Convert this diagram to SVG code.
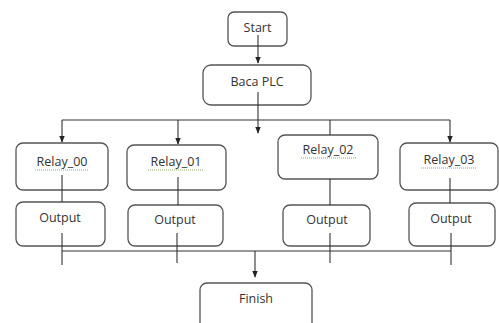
<svg xmlns="http://www.w3.org/2000/svg" width="499" height="323" viewBox="0 0 499 323">
<defs>
<marker id="ah" viewBox="0 0 10 10" refX="9" refY="5" markerWidth="7" markerHeight="7" orient="auto" markerUnits="userSpaceOnUse">
<path d="M0,1 L10,5 L0,9 z" fill="#222"/>
</marker>
<style>
.box{fill:#fff;stroke:#555;stroke-width:1.3}
.t{font-family:"Open Sans","Liberation Sans",sans-serif;font-size:12.5px;fill:#333;text-anchor:middle}
.c{stroke:#333;stroke-width:1.1;fill:none}
.sq{stroke:#6a9a4a;stroke-width:0.8;stroke-dasharray:1 1;fill:none}
</style>
</defs>
<rect width="499" height="323" fill="#fff"/>
<g id="start"><rect class="box" x="228" y="12" width="59" height="34" rx="6"/><text class="t" x="257.5" y="32">Start</text></g>
<g id="baca"><rect class="box" x="203" y="65" width="108" height="40" rx="8"/><text class="t" x="257" y="86">Baca PLC</text></g>
<g id="relay00"><rect class="box" x="16" y="143" width="92" height="47" rx="7"/><text class="t" x="62" y="166">Relay_00</text><path class="sq" d="M35,170 H89"/></g>
<g id="relay01"><rect class="box" x="127" y="145" width="99" height="45" rx="7"/><text class="t" x="176" y="166">Relay_01</text><path class="sq" d="M148,170 H203"/></g>
<g id="relay02"><rect class="box" x="278" y="135" width="100" height="44" rx="7"/><text class="t" x="328" y="154">Relay_02</text><path class="sq" d="M301,158 H356"/></g>
<g id="relay03"><rect class="box" x="400" y="143" width="98" height="47" rx="7"/><text class="t" x="449" y="164">Relay_03</text><path class="sq" d="M421,168 H477"/></g>
<g id="output00"><rect class="box" x="16" y="202" width="89" height="44" rx="7"/><text class="t" x="60" y="222">Output</text></g>
<g id="output01"><rect class="box" x="128" y="205" width="95" height="41" rx="7"/><text class="t" x="175" y="224">Output</text></g>
<g id="output02"><rect class="box" x="283" y="205" width="87" height="41" rx="7"/><text class="t" x="327" y="224">Output</text></g>
<g id="output03"><rect class="box" x="409" y="203" width="86" height="43" rx="7"/><text class="t" x="451" y="223">Output</text></g>
<g id="finish"><rect class="box" x="200" y="283" width="112" height="50" rx="7"/><text class="t" x="256" y="303">Finish</text></g>
<g id="connectors">
<path class="c" d="M258,35 V63" marker-end="url(#ah)"/>
<path class="c" d="M258,92 V133" marker-end="url(#ah)"/>
<path class="c" d="M62,120 H450"/>
<path class="c" d="M62,120 V142" marker-end="url(#ah)"/>
<path class="c" d="M178,120 V144" marker-end="url(#ah)"/>
<path class="c" d="M330,120 V135"/>
<path class="c" d="M450,120 V142" marker-end="url(#ah)"/>
<path class="c" d="M62,175 V202"/>
<path class="c" d="M178,177 V205"/>
<path class="c" d="M330,179 V205"/>
<path class="c" d="M450,178 V203"/>
<path class="c" d="M62,233 V265"/>
<path class="c" d="M177,233 V263"/>
<path class="c" d="M330,233 V263"/>
<path class="c" d="M451,233 V265"/>
<path class="c" d="M62,251 H451"/>
<path class="c" d="M255,251 V277" marker-end="url(#ah)"/>
</g>
</svg>
